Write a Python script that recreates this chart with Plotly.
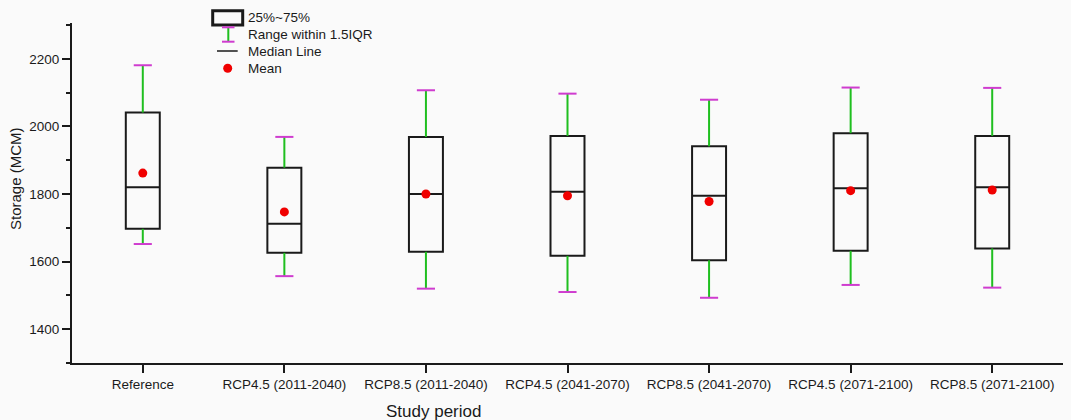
import plotly.graph_objects as go

# Storage statistics (MCM) for each study period
periods = ["Reference", "RCP4.5 (2011-2040)", "RCP8.5 (2011-2040)", "RCP4.5 (2041-2070)",
           "RCP8.5 (2041-2070)", "RCP4.5 (2071-2100)", "RCP8.5 (2071-2100)"]
whisker_low = [1652, 1557, 1520, 1510, 1493, 1531, 1523]
q1 = [1697, 1626, 1629, 1617, 1604, 1632, 1639]
median = [1820, 1712, 1800, 1807, 1795, 1817, 1820]
q3 = [2041, 1878, 1969, 1972, 1941, 1980, 1972]
whisker_high = [2181, 1969, 2107, 2097, 2079, 2115, 2114]
mean = [1862, 1747, 1800, 1795, 1778, 1810, 1812]

BG = "#fafafa"
INK = "#1a1a1a"
GREEN = "#1fbf1f"
MAGENTA = "#cf3ccf"
RED = "#f00000"
FONT = "Liberation Sans, Arial, sans-serif"

W, H = 1071, 420
ML, MR, MT, MB = 72, 8, 23, 57
PW, PH = W - ML - MR, H - MT - MB

xs = list(range(len(periods)))
cap_half = 0.064

fig = go.Figure()

# whisker stems
wx, wy = [], []
for i in xs:
    wx += [i, i, None, i, i, None]
    wy += [whisker_low[i], q1[i], None, q3[i], whisker_high[i], None]
fig.add_trace(go.Scatter(x=wx, y=wy, mode="lines", line=dict(color=GREEN, width=2),
                         hoverinfo="skip", showlegend=False))

# whisker caps
cx, cy = [], []
for i in xs:
    for v in (whisker_low[i], whisker_high[i]):
        cx += [i - cap_half, i + cap_half, None]
        cy += [v, v, None]
fig.add_trace(go.Scatter(x=cx, y=cy, mode="lines", line=dict(color=MAGENTA, width=2),
                         hoverinfo="skip", showlegend=False))

# interquartile boxes with median line
fig.add_trace(go.Box(x=xs, q1=q1, median=median, q3=q3, lowerfence=q1, upperfence=q3,
                     width=0.24, line=dict(color=INK, width=2), fillcolor="rgba(0,0,0,0)",
                     whiskerwidth=0, boxpoints=False, hoverinfo="skip", showlegend=False))

# means
fig.add_trace(go.Scatter(x=xs, y=mean, mode="markers",
                         marker=dict(color=RED, size=9, line=dict(width=0)),
                         hoverinfo="skip", showlegend=False))


def px(X):
    return (X - ML) / PW


def py(Y):
    return (MT + PH - Y) / PH


# hand-drawn key
shapes = [
    dict(type="rect", xref="paper", yref="paper", x0=px(212.7), x1=px(242.7),
         y0=py(25), y1=py(10.7), line=dict(color=INK, width=3)),
    dict(type="line", xref="paper", yref="paper", x0=px(228.3), x1=px(228.3),
         y0=py(41.7), y1=py(27.3), line=dict(color=GREEN, width=2)),
    dict(type="line", xref="paper", yref="paper", x0=px(222), x1=px(234.5),
         y0=py(27.3), y1=py(27.3), line=dict(color=MAGENTA, width=2)),
    dict(type="line", xref="paper", yref="paper", x0=px(222), x1=px(234.5),
         y0=py(41.7), y1=py(41.7), line=dict(color=MAGENTA, width=2)),
    dict(type="line", xref="paper", yref="paper", x0=px(217), x1=px(237.7),
         y0=py(51), y1=py(51), line=dict(color=INK, width=1.5)),
    dict(type="circle", xref="paper", yref="paper", xsizemode="pixel", ysizemode="pixel",
         xanchor=px(227.7), yanchor=py(68.3), x0=-4.5, x1=4.5, y0=-4.5, y1=4.5,
         fillcolor=RED, line=dict(width=0)),
]
for s in shapes:
    fig.add_shape(**s)

key_labels = ["25%~75%", "Range within 1.5IQR", "Median Line", "Mean"]
key_rows = [17.3, 34.3, 51, 68.3]
for lab, yy in zip(key_labels, key_rows):
    fig.add_annotation(x=px(245.5), y=py(yy), xref="paper", yref="paper", text=lab,
                       showarrow=False, xanchor="left", yanchor="middle",
                       font=dict(family=FONT, size=13.5, color=INK))

# axis titles
fig.add_annotation(x=px(433), y=py(411), xref="paper", yref="paper", text="Study period",
                   showarrow=False, xanchor="center", yanchor="middle",
                   font=dict(family=FONT, size=17, color=INK))
fig.add_annotation(x=px(15), y=py(179), xref="paper", yref="paper", text="Storage (MCM)",
                   showarrow=False, xanchor="center", yanchor="middle", textangle=-90,
                   font=dict(family=FONT, size=15, color=INK))

fig.update_layout(
    width=W, height=H,
    margin=dict(l=ML, r=MR, t=MT, b=MB),
    paper_bgcolor=BG, plot_bgcolor=BG,
    showlegend=False,
    font=dict(family=FONT, size=13.5, color=INK),
    xaxis=dict(range=[-0.5, 6.5], tickmode="array", tickvals=xs, ticktext=periods,
               showgrid=False, zeroline=False, showline=True, linecolor=INK, linewidth=2,
               ticks="outside", ticklen=8, tickwidth=2, tickcolor=INK,
               tickfont=dict(family=FONT, size=13.5, color=INK)),
    yaxis=dict(range=[1300, 2306], tick0=1400, dtick=200, showgrid=False, zeroline=False,
               showline=True, linecolor=INK, linewidth=2,
               ticks="outside", ticklen=8, tickwidth=2, tickcolor=INK,
               minor=dict(dtick=100, ticks="outside", ticklen=4, tickwidth=2,
                          tickcolor=INK, showgrid=False),
               tickfont=dict(family=FONT, size=13.5, color=INK)),
)

fig.write_html("out.html")
